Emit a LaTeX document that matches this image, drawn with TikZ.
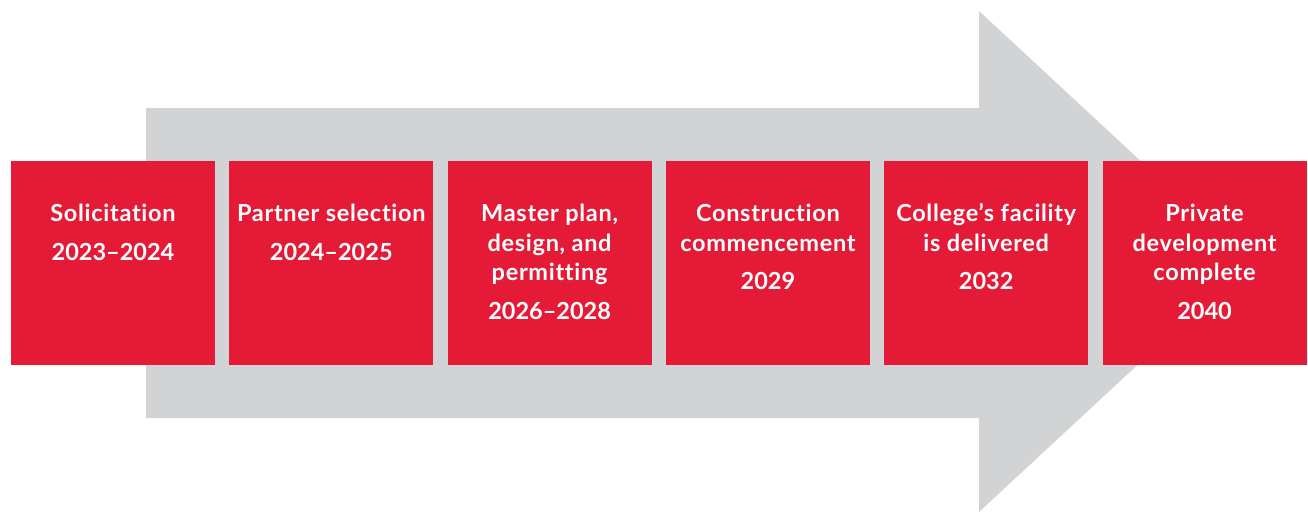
\documentclass[tikz,border=0pt]{standalone}
\usepackage{fontspec}
\setmainfont{Lato}[Ligatures=NoCommon,LetterSpace=3]
\newfontfamily\yearfont{Lato}
\newcommand{\yr}[1]{{\yearfont\bfseries #1}}
\definecolor{stepred}{HTML}{E41A37}
\definecolor{arrowgray}{HTML}{D1D3D4}
\begin{document}
\begin{tikzpicture}[x=1pt,y=-1pt,
  stepbox/.style={fill=stepred,draw=none,minimum width=204pt,minimum height=204pt,inner sep=0pt,outer sep=0pt},
  steptext/.style={anchor=north,inner sep=0pt,outer sep=0pt,text=white,align=center,
    font=\fontsize{23.5}{29.5}\selectfont\bfseries}]
\useasboundingbox (0,0) rectangle (1308,512);
% big arrow
\fill[arrowgray] (146,108) -- (979,108) -- (979,11) -- (1249,261.5) -- (979,512) -- (979,418) -- (146,418) -- cycle;
% boxes
\node[stepbox] (b1) at (113,263) {};
\node[stepbox] (b2) at (331.3,263) {};
\node[stepbox] (b3) at (549.6,263) {};
\node[stepbox] (b4) at (767.9,263) {};
\node[stepbox] (b5) at (986.2,263) {};
\node[stepbox] (b6) at (1204.5,263) {};
% texts
\node[steptext] (t1) at ([yshift=-39.85pt]b1.north) {\strut Solicitation\\[9pt]\strut \yr{2023–2024}};
\node[steptext] (t2) at ([yshift=-39.85pt]b2.north) {\strut Partner selection\\[9pt]\strut \yr{2024–2025}};
\node[steptext] (t3) at ([yshift=-39.85pt]b3.north) {\strut Master plan,\\\strut design, and\\\strut permitting\\[9pt]\strut \yr{2026–2028}};
\node[steptext] (t4) at ([yshift=-39.85pt]b4.north) {\strut Construction\\\strut commencement\\[9pt]\strut \yr{2029}};
\node[steptext] (t5) at ([yshift=-39.85pt]b5.north) {\strut College’s facility\\\strut is delivered\\[9pt]\strut \yr{2032}};
\node[steptext] (t6) at ([yshift=-39.85pt]b6.north) {\strut Private\\\strut development\\\strut complete\\[9pt]\strut \yr{2040}};
\end{tikzpicture}
\end{document}
